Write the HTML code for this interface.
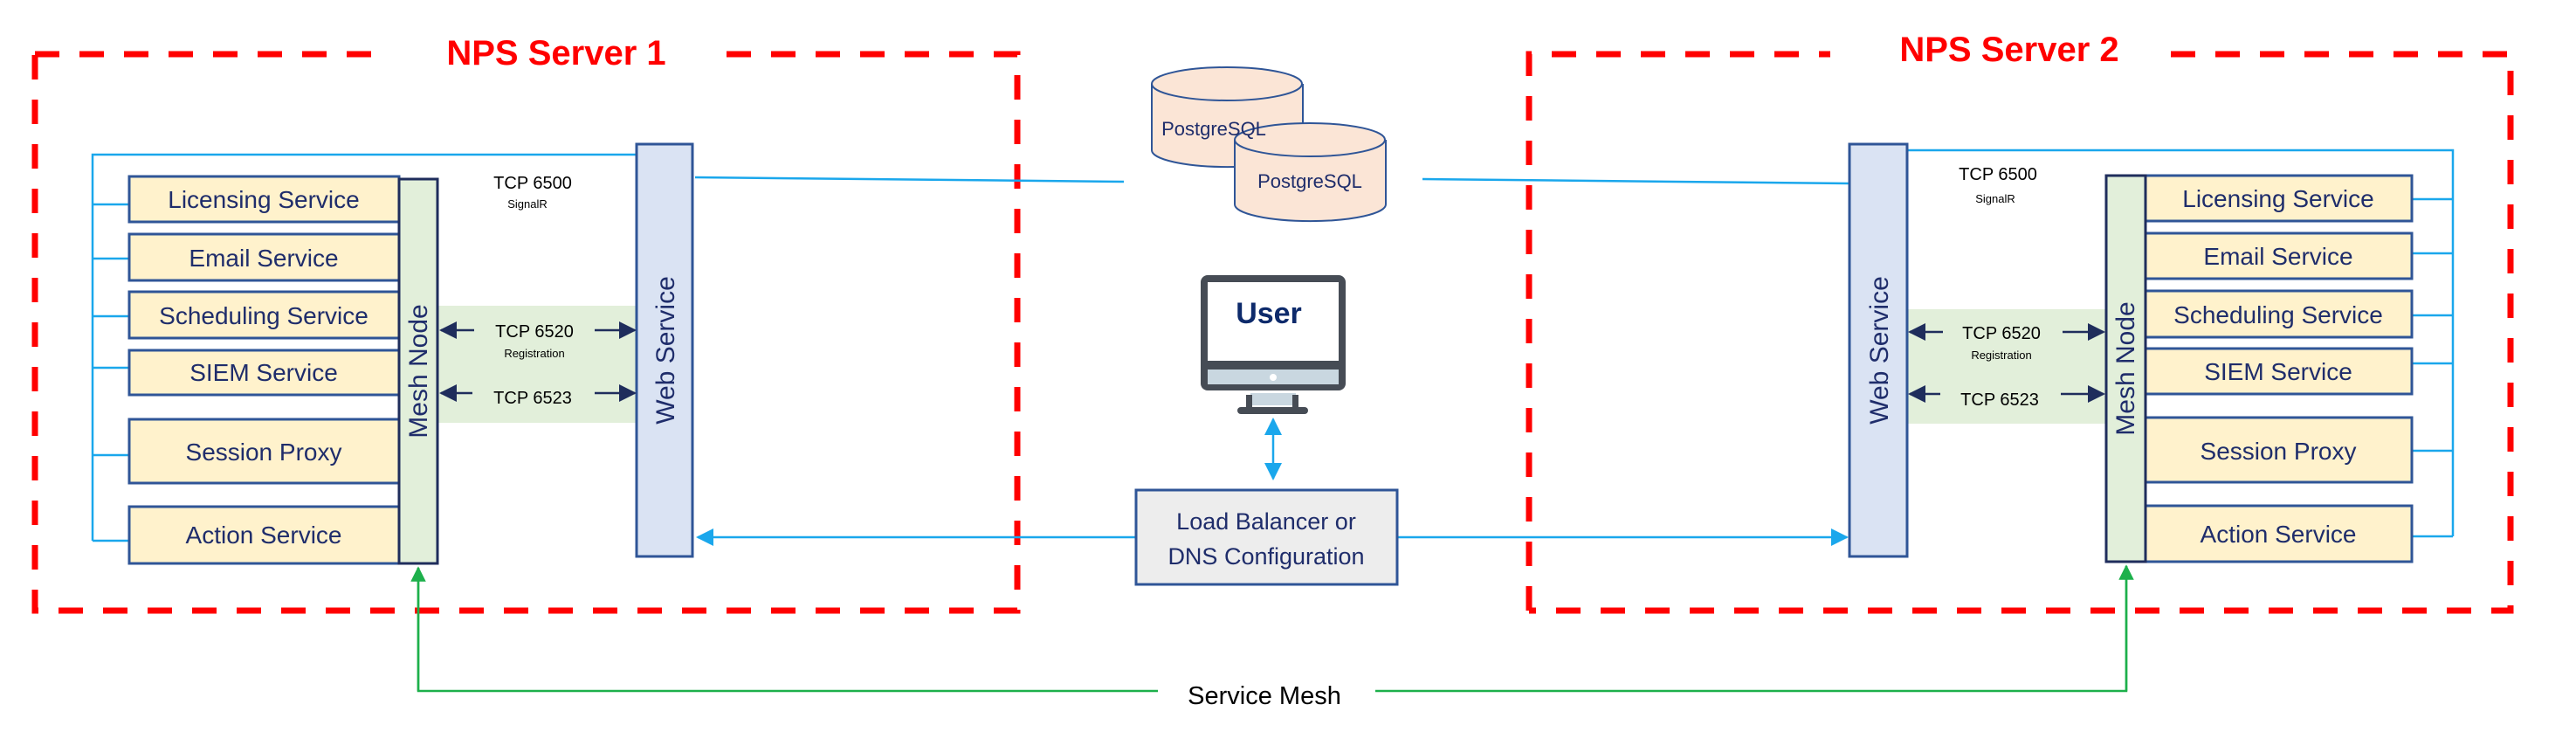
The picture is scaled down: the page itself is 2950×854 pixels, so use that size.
<!DOCTYPE html>
<html><head><meta charset="utf-8"><style>
html,body{margin:0;padding:0;background:#fff;}
svg{display:block;}
text{font-family:"Liberation Sans",sans-serif;}
</style></head><body>
<svg width="2950" height="854" viewBox="0 0 2950 854" xmlns="http://www.w3.org/2000/svg">
<defs>
<marker id="nv" viewBox="0 0 10 10" refX="9" refY="5" markerWidth="8" markerHeight="8" orient="auto-start-reverse"><path d="M0,0L10,5L0,10z" fill="#1f2d5c"/></marker>
<marker id="bl" viewBox="0 0 10 10" refX="9" refY="5" markerWidth="8" markerHeight="8" orient="auto-start-reverse"><path d="M0,0L10,5L0,10z" fill="#1aa7ec"/></marker>
<marker id="gr" viewBox="0 0 10 10" refX="9" refY="5" markerWidth="7" markerHeight="7" orient="auto-start-reverse"><path d="M0,0L10,5L0,10z" fill="#1db04b"/></marker>
</defs>
<g fill="none" stroke="#ff0000" stroke-width="7" stroke-dasharray="28 23">
<path d="M40,62 H440"/><path d="M832,62 H1165 V699 H40 V62"/>
<path d="M1751,699 V62 H2096"/><path d="M2486,62 H2875 V699 H1751"/>
</g>
<rect x="445" y="30" width="382" height="60" fill="#fff"/>
<rect x="2100" y="25" width="380" height="60" fill="#fff"/>
<text x="637" y="74" font-size="40" font-weight="bold" fill="#ff0000" text-anchor="middle">NPS Server 1</text>
<text x="2301" y="70" font-size="40" font-weight="bold" fill="#ff0000" text-anchor="middle">NPS Server 2</text>

<g stroke="#1aa7ec" stroke-width="2.5" fill="none">
<path d="M729,177 H106 V619"/>
<path d="M106,234H148M106,296H148M106,362H148M106,421H148M106,521H148M106,619H148"/>
<path d="M796,203 L1287,208"/>
<path d="M1629,205 L2118,210"/>
<path d="M2184,172 H2809 V614"/>
<path d="M2762,228H2809M2762,290H2809M2762,361H2809M2762,416H2809M2762,516H2809M2762,614H2809"/>
<path d="M1301,615 H799" marker-end="url(#bl)"/>
<path d="M1600,615 H2115" marker-end="url(#bl)"/>
<path d="M1458,480 V548" marker-start="url(#bl)" marker-end="url(#bl)"/>
</g>
<g stroke="#1db04b" stroke-width="2.5" fill="none">
<path d="M479,650 V791 H1326"/>
<path d="M1575,791 H2435 V648"/>
<path d="M479,791 V650" marker-end="url(#gr)"/>
<path d="M2435,791 V648" marker-end="url(#gr)"/>
</g>

<rect x="501" y="350" width="228" height="134" fill="#e2efda"/>
<rect x="2184" y="354" width="228" height="131" fill="#e2efda"/>

<g fill="#fff2cc" stroke="#2f5597" stroke-width="3">
<rect x="148" y="202" width="309" height="52"/><rect x="148" y="268" width="309" height="53"/>
<rect x="148" y="334" width="309" height="53"/><rect x="148" y="401" width="309" height="51"/>
<rect x="148" y="480" width="309" height="73"/><rect x="148" y="580" width="309" height="65"/>
<rect x="2457" y="201" width="305" height="52"/><rect x="2457" y="267" width="305" height="52"/>
<rect x="2457" y="333" width="305" height="53"/><rect x="2457" y="399" width="305" height="52"/>
<rect x="2457" y="478" width="305" height="74"/><rect x="2457" y="579" width="305" height="64"/>
</g>
<g fill="#e2efda" stroke="#1f2d5c" stroke-width="3">
<rect x="457" y="205" width="44" height="440"/>
<rect x="2412" y="201" width="45" height="442"/>
</g>
<g fill="#dae3f3" stroke="#2f5597" stroke-width="3">
<rect x="729" y="165" width="64" height="472"/>
<rect x="2118" y="165" width="66" height="472"/>
</g>
<g font-size="28" fill="#1f2d6b" text-anchor="middle">
<text x="302" y="238">Licensing Service</text>
<text x="302" y="305">Email Service</text>
<text x="302" y="371">Scheduling Service</text>
<text x="302" y="436">SIEM Service</text>
<text x="302" y="527">Session Proxy</text>
<text x="302" y="622">Action Service</text>
<text x="2609" y="237">Licensing Service</text>
<text x="2609" y="303">Email Service</text>
<text x="2609" y="370">Scheduling Service</text>
<text x="2609" y="435">SIEM Service</text>
<text x="2609" y="526">Session Proxy</text>
<text x="2609" y="621">Action Service</text>
<text font-size="30" transform="translate(489,425) rotate(-90)">Mesh Node</text>
<text font-size="30" transform="translate(2444,422) rotate(-90)">Mesh Node</text>
<text font-size="30" transform="translate(772,401) rotate(-90)">Web Service</text>
<text font-size="30" transform="translate(2162,401) rotate(-90)">Web Service</text>
</g>
<g fill="#000" text-anchor="middle">
<text x="610" y="216" font-size="20">TCP 6500</text>
<text x="604" y="238" font-size="13">SignalR</text>
<text x="612" y="386" font-size="20">TCP 6520</text>
<text x="612" y="409" font-size="13">Registration</text>
<text x="610" y="462" font-size="20">TCP 6523</text>
<text x="2288" y="206" font-size="20">TCP 6500</text>
<text x="2285" y="232" font-size="13">SignalR</text>
<text x="2292" y="388" font-size="20">TCP 6520</text>
<text x="2292" y="411" font-size="13">Registration</text>
<text x="2290" y="464" font-size="20">TCP 6523</text>
</g>
<g stroke="#1f2d5c" stroke-width="2.5">
<path d="M543,378H505" marker-end="url(#nv)"/><path d="M681,378H727" marker-end="url(#nv)"/>
<path d="M541,450H505" marker-end="url(#nv)"/><path d="M681,450H727" marker-end="url(#nv)"/>
<path d="M2225,380H2187" marker-end="url(#nv)"/><path d="M2362,380H2409" marker-end="url(#nv)"/>
<path d="M2222,451H2187" marker-end="url(#nv)"/><path d="M2360,451H2409" marker-end="url(#nv)"/>
</g>

<g fill="#fbe5d6" stroke="#2f5597" stroke-width="2">
<path d="M1319,96 V172 A86,19 0 0 0 1492,172 V96"/>
<ellipse cx="1405" cy="96" rx="86" ry="19"/>
<path d="M1414,160 V234 A86,19 0 0 0 1587,234 V160"/>
<ellipse cx="1500" cy="160" rx="86" ry="19"/>
</g>
<text x="1390" y="155" font-size="22" fill="#1f2d6b" text-anchor="middle">PostgreSQL</text>
<text x="1500" y="215" font-size="22" fill="#1f2d6b" text-anchor="middle">PostgreSQL</text>

<rect x="1375" y="315" width="166" height="132" rx="8" fill="#464c55"/>
<rect x="1383" y="323" width="150" height="90" fill="#fff"/>
<rect x="1383" y="423" width="150" height="17" fill="#c9d7e0"/>
<circle cx="1458" cy="432" r="4" fill="#fff"/>
<rect x="1432" y="450" width="52" height="14" fill="#c9d7e0"/>
<rect x="1427" y="452" width="7" height="14" fill="#464c55"/><rect x="1480" y="452" width="7" height="14" fill="#464c55"/>
<rect x="1417" y="466" width="81" height="8" rx="4" fill="#464c55"/>
<text x="1453" y="370" font-size="34" font-weight="bold" fill="#0d2a6b" text-anchor="middle">User</text>

<rect x="1301" y="561" width="299" height="108" fill="#ededed" stroke="#2f5597" stroke-width="3"/>
<text x="1450" y="606" font-size="27" fill="#1f2d6b" text-anchor="middle">Load Balancer or</text>
<text x="1450" y="646" font-size="27" fill="#1f2d6b" text-anchor="middle">DNS Configuration</text>

<text x="1448" y="806" font-size="29" fill="#000" text-anchor="middle">Service Mesh</text>
</svg>
</body></html>
